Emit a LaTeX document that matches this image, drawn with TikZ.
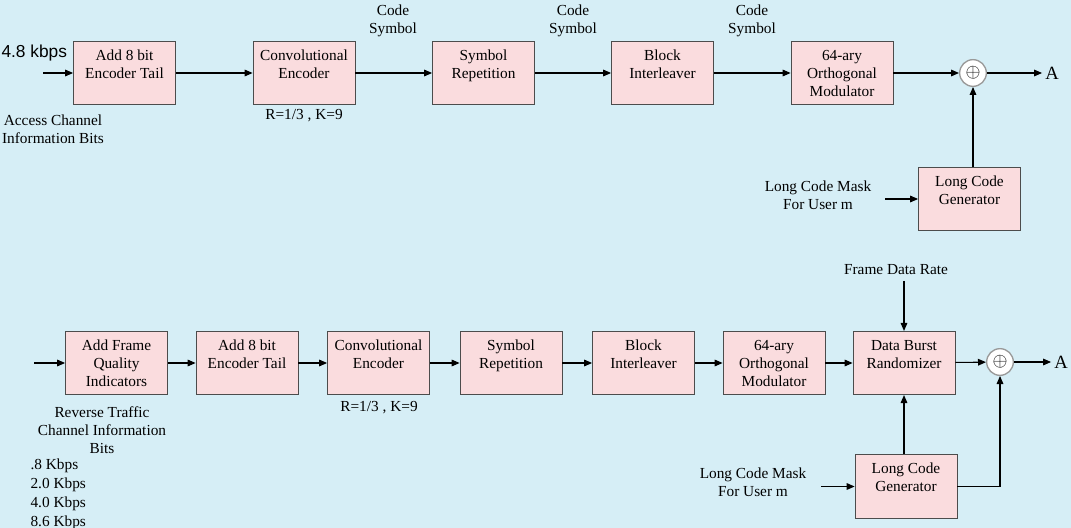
\documentclass[tikz,border=0pt]{standalone}
\usepackage{fontspec}
\setmainfont{Liberation Serif}
\newfontfamily\arialfont{Liberation Sans}
\usetikzlibrary{arrows.meta}
\usepackage{xcolor}

\definecolor{fundo}{RGB}{214,238,246}
\definecolor{rosa}{RGB}{250,220,222}

\tikzset{
  blk/.style={draw=black!70, line width=0.6pt, fill=rosa, minimum width=76.5pt,
    minimum height=47.5pt, align=center, inner sep=1pt,
    font=\fontsize{11.5}{13.5}\selectfont},
  lbl/.style={align=center, inner sep=0pt, font=\fontsize{11.5}{13.5}\selectfont},
  xor/.style={circle, draw=black!40, line width=1pt, fill=white, minimum size=20pt,
    inner sep=0pt, font=\fontsize{14}{14}\selectfont},
  saida/.style={inner sep=2pt, font=\fontsize{14}{14}\selectfont}
}

\begin{document}
\begin{tikzpicture}[x=0.75pt, y=-0.75pt, >={Triangle[length=6pt,width=5pt]}, line width=0.8pt]
    % Fundo
    \path[use as bounding box, fill=fundo] (0,0) rectangle (1071,528);

    % Canal de acesso
    \node[anchor=west, inner sep=0pt, font=\arialfont\fontsize{13}{13}\selectfont] (taxa1) at (1,53) {4.8 kbps};
    \coordinate (in1) at (43,73);
    \node[blk] (tail1) at (124.5,73) {Add 8 bit\\Encoder Tail\\~};
    \node[blk] (conv1) at (304,73) {Convolutional\\Encoder\\~};
    \node[blk] (rep1) at (483.5,73) {Symbol\\Repetition\\~};
    \node[blk] (intl1) at (662.5,73) {Block\\Interleaver\\~};
    \node[blk] (mod1) at (842,73) {64-ary\\Orthogonal\\Modulator};
    \node[xor] (sum1) at (973,73) {$\oplus$};
    \node[saida] (a1) at (1052,73) {A};
    \node[blk] (lcg1) at (969.5,199) {Long Code\\Generator\\~};
    \coordinate (mask1) at (885,199);

    \node[lbl] (info1) at (53,129) {Access Channel\\Information Bits};
    \node[lbl] (rk1) at (304,116) {R=1/3 , K=9};
    \node[lbl] (cs1) at (393,21) {Code\\Symbol};
    \node[lbl] (cs2) at (573,21) {Code\\Symbol};
    \node[lbl] (cs3) at (752,21) {Code\\Symbol};
    \node[lbl] (lcm1) at (818,195) {Long Code Mask\\For User m};

    \draw[->] (in1) -- (tail1);
    \draw[->] (tail1) -- (conv1);
    \draw[->] (conv1) -- (rep1);
    \draw[->] (rep1) -- (intl1);
    \draw[->] (intl1) -- (mod1);
    \draw[->] (mod1) -- (sum1);
    \draw[->] (sum1) -- (a1);
    \draw[->] (lcg1.north -| sum1) -- (sum1);
    \draw[->] (mask1) -- (lcg1);

    % Canal de trafego reverso
    \coordinate (in2) at (34,363);
    \node[blk] (fqi) at (116.5,363) {Add Frame\\Quality\\Indicators};
    \node[blk] (tail2) at (247,363) {Add 8 bit\\Encoder Tail\\~};
    \node[blk] (conv2) at (378.5,363) {Convolutional\\Encoder\\~};
    \node[blk] (rep2) at (511,363) {Symbol\\Repetition\\~};
    \node[blk] (intl2) at (643.5,363) {Block\\Interleaver\\~};
    \node[blk] (mod2) at (774,363) {64-ary\\Orthogonal\\Modulator};
    \node[blk] (dbr) at (904,363) {Data Burst\\Randomizer\\~};
    \node[xor] (sum2) at (1000,362) {$\oplus$};
    \node[saida] (a2) at (1061,362) {A};
    \node[blk] (lcg2) at (906,486.5) {Long Code\\Generator\\~};
    \coordinate (mask2) at (821,486.5);

    \node[lbl] (fdr) at (896,270) {Frame Data Rate};
    \node[lbl] (info2) at (102,430) {Reverse Traffic\\Channel Information\\Bits};
    \node[lbl] (rk2) at (379,408) {R=1/3 , K=9};
    \node[lbl] (lcm2) at (753,482) {Long Code Mask\\For User m};

    % Taxas
    \foreach \r/\y [count=\i] in {.8/466, 2.0/485, 4.0/504, 8.6/523}
        \node[lbl, anchor=west] (kbps\i) at (30,\y) {\r\ Kbps};

    \draw[->] (in2) -- (fqi);
    \draw[->] (fqi) -- (tail2);
    \draw[->] (tail2) -- (conv2);
    \draw[->] (conv2) -- (rep2);
    \draw[->] (rep2) -- (intl2);
    \draw[->] (intl2) -- (mod2);
    \draw[->] (mod2) -- (dbr);
    \draw[->] (dbr) -- (sum2);
    \draw[->] (sum2) -- (a2);
    \draw[->] ([yshift=-4pt]fdr.south -| dbr.north) -- (dbr.north);
    \draw[->] (lcg2.north -| dbr) -- (dbr);
    \draw[->] (lcg2.east) -| (sum2.south);
    \draw[->] (mask2) -- (lcg2);
\end{tikzpicture}
\end{document}
